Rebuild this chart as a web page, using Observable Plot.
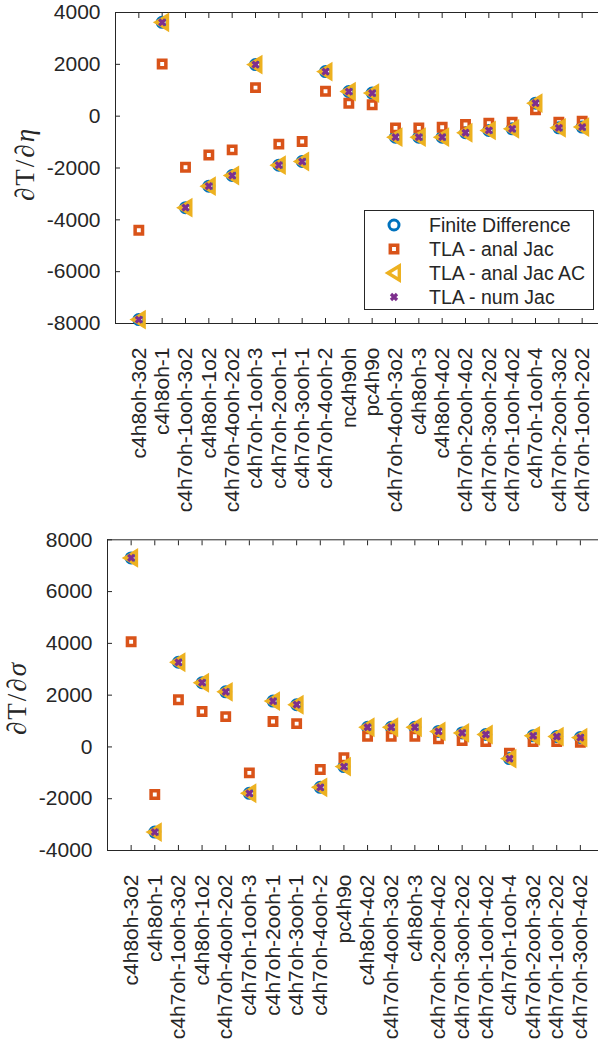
<!DOCTYPE html>
<html>
<head>
<meta charset="utf-8">
<script src="https://cdn.jsdelivr.net/npm/d3@7"></script>
<script src="https://cdn.jsdelivr.net/npm/@observablehq/plot@0.6"></script>
<style>
  html, body { margin: 0; padding: 0; background: #fff; }
  #page { position: relative; width: 598px; height: 1052px; overflow: hidden; background: #fff; }
  .panel { position: absolute; left: 0; }
  .ylab { position: absolute; width: 140px; height: 30px; line-height: 30px; text-align: center;
          transform: rotate(-90deg); transform-origin: 50% 50%;
          font-family: "Liberation Serif", "DejaVu Serif", serif; font-size: 27px; color: #262626; white-space: nowrap; letter-spacing: 2px; }
  .ylab i { font-style: italic; }
  #legend { position: absolute; left: 364px; top: 210px; width: 228px; height: 98px; border: 1px solid #262626; background: #fff; }
</style>
</head>
<body>
<div id="page"></div>
<script>
// ---------- data: top panel (dT/d eta) ----------
const cats1 = ["c4h8oh-3o2","c4h8oh-1","c4h7oh-1ooh-3o2","c4h8oh-1o2","c4h7oh-4ooh-2o2","c4h7oh-1ooh-3","c4h7oh-2ooh-1","c4h7oh-3ooh-1","c4h7oh-4ooh-2","nc4h9oh","pc4h9o","c4h7oh-4ooh-3o2","c4h8oh-3","c4h8oh-4o2","c4h7oh-2ooh-4o2","c4h7oh-3ooh-2o2","c4h7oh-1ooh-4o2","c4h7oh-1ooh-4","c4h7oh-2ooh-3o2","c4h7oh-1ooh-2o2"];
const fd1   = [-7850, 3620, -3530, -2700, -2290, 1990, -1890, -1750, 1720, 950, 890, -810, -810, -810, -640, -550, -490, 500, -450, -420];
const anal1 = [-4400, 2010, -1970, -1500, -1300, 1100, -1080, -980, 960, 500, 440, -450, -450, -430, -320, -270, -230, 250, -230, -190];
const ac1   = [-7850, 3620, -3530, -2700, -2290, 1990, -1890, -1750, 1720, 950, 890, -810, -810, -810, -640, -550, -490, 500, -450, -420];
const num1  = [-7850, 3620, -3530, -2700, -2290, 1990, -1890, -1750, 1720, 950, 890, -810, -810, -810, -640, -550, -490, 500, -450, -420];
const yticks1 = [-8000, -6000, -4000, -2000, 0, 2000, 4000];

// ---------- data: bottom panel (dT/d sigma) ----------
const cats2 = ["c4h8oh-3o2","c4h8oh-1","c4h7oh-1ooh-3o2","c4h8oh-1o2","c4h7oh-4ooh-2o2","c4h7oh-1ooh-3","c4h7oh-2ooh-1","c4h7oh-3ooh-1","c4h7oh-4ooh-2","pc4h9o","c4h8oh-4o2","c4h7oh-4ooh-3o2","c4h8oh-3","c4h7oh-2ooh-4o2","c4h7oh-3ooh-2o2","c4h7oh-1ooh-4o2","c4h7oh-1ooh-4","c4h7oh-2ooh-3o2","c4h7oh-1ooh-2o2","c4h7oh-3ooh-4o2"];
const fd2   = [7300, -3290, 3270, 2480, 2130, -1790, 1770, 1630, -1560, -760, 760, 760, 760, 600, 540, 480, -450, 430, 400, 360];
const anal2 = [4060, -1840, 1820, 1370, 1170, -1000, 980, 900, -870, -420, 410, 410, 410, 310, 250, 210, -240, 210, 210, 180];
const ac2   = [7300, -3290, 3270, 2480, 2130, -1790, 1770, 1630, -1560, -760, 760, 760, 760, 600, 540, 480, -450, 430, 400, 360];
const num2  = [7300, -3290, 3270, 2480, 2130, -1790, 1770, 1630, -1560, -760, 760, 760, 760, 600, 540, 480, -450, 430, 400, 360];
const yticks2 = [-4000, -2000, 0, 2000, 4000, 6000, 8000];

const seriesNames = ["Finite Difference", "TLA - anal Jac", "TLA - anal Jac AC", "TLA - num Jac"];
const colors = ["#0072BD", "#D95319", "#EDB120", "#7E2F8E"];

// custom symbols
const symCircle = {draw(ctx, size) { const r = Math.sqrt(size / Math.PI); ctx.moveTo(r, 0); ctx.arc(0, 0, r, 0, 2 * Math.PI); ctx.closePath(); }};
const symSquare = {draw(ctx, size) { const r = Math.sqrt(size / Math.PI); ctx.rect(-r, -r, 2 * r, 2 * r); }};
const symLeftTri = {draw(ctx, size) { const r = Math.sqrt(size / Math.PI); ctx.moveTo(-1.15 * r, 0); ctx.lineTo(1.0 * r, -1.3 * r); ctx.lineTo(1.0 * r, 1.3 * r); ctx.closePath(); }};
const symTimes = {draw(ctx, size) { const r = Math.sqrt(size / Math.PI); ctx.moveTo(-r, -r); ctx.lineTo(r, r); ctx.moveTo(r, -r); ctx.lineTo(-r, r); }};

const INK = "#262626";
const FONT = "'Liberation Sans', Arial, Helvetica, sans-serif";

function panel({cats, fd, anal, ac, num, yticks, ydomain, xrange, top, bottom, svgHeight}) {
  const data = cats.map((c, i) => ({i: i + 1, cat: c, fd: fd[i], anal: anal[i], ac: ac[i], num: num[i]}));
  const idx = d3.range(1, cats.length + 1);
  return Plot.plot({
    width: 598,
    height: svgHeight,
    marginTop: top,
    marginBottom: svgHeight - bottom,
    marginLeft: xrange[0],
    marginRight: 0,
    x: {domain: [0, cats.length + 1], range: xrange},
    y: {domain: ydomain},
    style: {fontFamily: FONT, fontSize: "21px", color: INK, background: "transparent", overflow: "hidden"},
    marks: [
      // frame
      Plot.ruleX([0], {stroke: INK, strokeWidth: 1}),
      Plot.ruleX([cats.length + 1], {stroke: INK, strokeWidth: 1}),
      Plot.ruleY([ydomain[0], ydomain[1]], {stroke: INK, strokeWidth: 1}),
      // inward ticks
      Plot.axisX(idx, {anchor: "bottom", tickSize: 5, dy: -5, tickFormat: () => "", label: null, stroke: INK}),
      Plot.axisX(idx, {anchor: "top", tickSize: 5, dy: 5, tickFormat: () => "", label: null, stroke: INK}),
      Plot.axisY(yticks, {anchor: "left", tickSize: 5, dx: 5, tickFormat: () => "", label: null, stroke: INK}),
      // tick labels
      Plot.axisX(idx, {anchor: "bottom", tickSize: 0, tickPadding: 24, tickRotate: -90, tickFormat: i => cats[i - 1], label: null, fontSize: 21, fill: INK}),
      Plot.axisY(yticks, {anchor: "left", tickSize: 0, tickPadding: 15, tickFormat: d => String(d), label: null, fontSize: 21, fill: INK}),
      // data
      Plot.dot(data, {x: "i", y: "fd", symbol: symCircle, r: 5, stroke: colors[0], strokeWidth: 3, fill: "none"}),
      Plot.dot(data, {x: "i", y: "anal", symbol: symSquare, r: 3.7, stroke: colors[1], strokeWidth: 3.5, fill: "none"}),
      Plot.dot(data, {x: "i", y: "ac", symbol: symLeftTri, r: 5.3, stroke: colors[2], strokeWidth: 3.4, fill: "none", strokeLinejoin: "miter"}),
      Plot.dot(data, {x: "i", y: "num", symbol: symTimes, r: 3, stroke: colors[3], strokeWidth: 3.2})
    ]
  });
}

const page = document.getElementById("page");

function addPanel(svg, topPx) {
  const wrap = document.createElement("div");
  wrap.className = "panel";
  wrap.style.top = topPx + "px";
  wrap.appendChild(svg);
  page.appendChild(wrap);
}

// top panel
addPanel(panel({cats: cats1, fd: fd1, anal: anal1, ac: ac1, num: num1, yticks: yticks1,
  ydomain: [-8000, 4000], xrange: [115, 605], top: 12, bottom: 323, svgHeight: 525}), 0);
// bottom panel (svg starts at y=527)
addPanel(panel({cats: cats2, fd: fd2, anal: anal2, ac: ac2, num: num2, yticks: yticks2,
  ydomain: [-4000, 8000], xrange: [107, 603.5], top: 539.3 - 527, bottom: 850 - 527, svgHeight: 525}), 527);

// y labels
function ylabel(html, cx, cy) {
  const d = document.createElement("div");
  d.className = "ylab";
  d.innerHTML = html;
  d.style.left = (cx - 70) + "px";
  d.style.top = (cy - 15) + "px";
  page.appendChild(d);
}
ylabel("<i>∂</i>T/<i>∂η</i>", 25, 164);
ylabel("<i>∂</i>T/<i>∂σ</i>", 17, 698);

// legend
const lg = document.createElement("div");
lg.id = "legend";
const ns = "http://www.w3.org/2000/svg";
const lsvg = document.createElementNS(ns, "svg");
lsvg.setAttribute("width", 228); lsvg.setAttribute("height", 98);
const rowsY = [14, 38, 62, 86];
const syms = [symCircle, symSquare, symLeftTri, symTimes];
const rs = [5, 3.7, 5.3, 3];
const sws = [3, 3.5, 3.4, 3.2];
seriesNames.forEach((name, k) => {
  const p = d3.path();
  syms[k].draw(p, Math.PI * rs[k] * rs[k]);
  const path = document.createElementNS(ns, "path");
  path.setAttribute("d", p.toString());
  path.setAttribute("transform", `translate(29,${rowsY[k]})`);
  path.setAttribute("fill", "none");
  path.setAttribute("stroke", colors[k]);
  path.setAttribute("stroke-width", sws[k]);
  lsvg.appendChild(path);
  const t = document.createElementNS(ns, "text");
  t.setAttribute("x", 64); t.setAttribute("y", rowsY[k]);
  t.setAttribute("dy", "0.35em");
  t.setAttribute("font-family", FONT);
  t.setAttribute("font-size", 19.5);
  t.setAttribute("fill", INK);
  t.textContent = name;
  lsvg.appendChild(t);
});
lg.appendChild(lsvg);
page.appendChild(lg);
</script>
</body>
</html>
